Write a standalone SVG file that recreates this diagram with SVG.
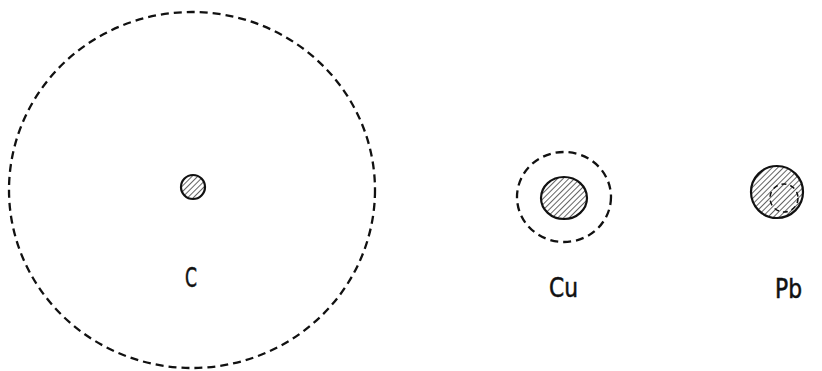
<svg xmlns="http://www.w3.org/2000/svg" width="822" height="371" viewBox="0 0 822 371">
<defs>
<pattern id="hatch" patternUnits="userSpaceOnUse" width="4" height="4" patternTransform="rotate(-45)">
<rect width="4" height="4" fill="#fff"/>
<line x1="0" y1="0" x2="4" y2="0" stroke="#111" stroke-width="1.3"/>
</pattern>
<style>
.dash{fill:none;stroke:#111;stroke-width:2.3;stroke-dasharray:8 5}
.solid{fill:url(#hatch);stroke:#111;stroke-width:2.2}
.lbl{font-family:"DejaVu Sans Condensed","DejaVu Sans",sans-serif;font-size:26px;fill:#111;stroke:#111;stroke-width:0.5}
</style>
</defs>
<rect width="822" height="371" fill="#fff"/>
<g id="C">
<ellipse class="dash" cx="192" cy="190" rx="183" ry="178"/>
<circle class="solid" cx="193" cy="187" r="12"/>
<text class="lbl" x="185" y="287" textLength="12" lengthAdjust="spacingAndGlyphs">C</text>
</g>
<g id="Cu">
<ellipse class="dash" cx="564" cy="197" rx="47" ry="45"/>
<ellipse class="solid" cx="564" cy="198" rx="23" ry="21"/>
<text class="lbl" x="549" y="297" textLength="29" lengthAdjust="spacingAndGlyphs">Cu</text>
</g>
<g id="Pb">
<circle class="solid" cx="777" cy="192" r="26"/>
<circle class="dash" cx="784" cy="198" r="14" style="stroke-width:1.5;stroke-dasharray:5 4"/>
<text class="lbl" x="775" y="298" textLength="27" lengthAdjust="spacingAndGlyphs">Pb</text>
</g>
<g id="connectors"/>
</svg>
